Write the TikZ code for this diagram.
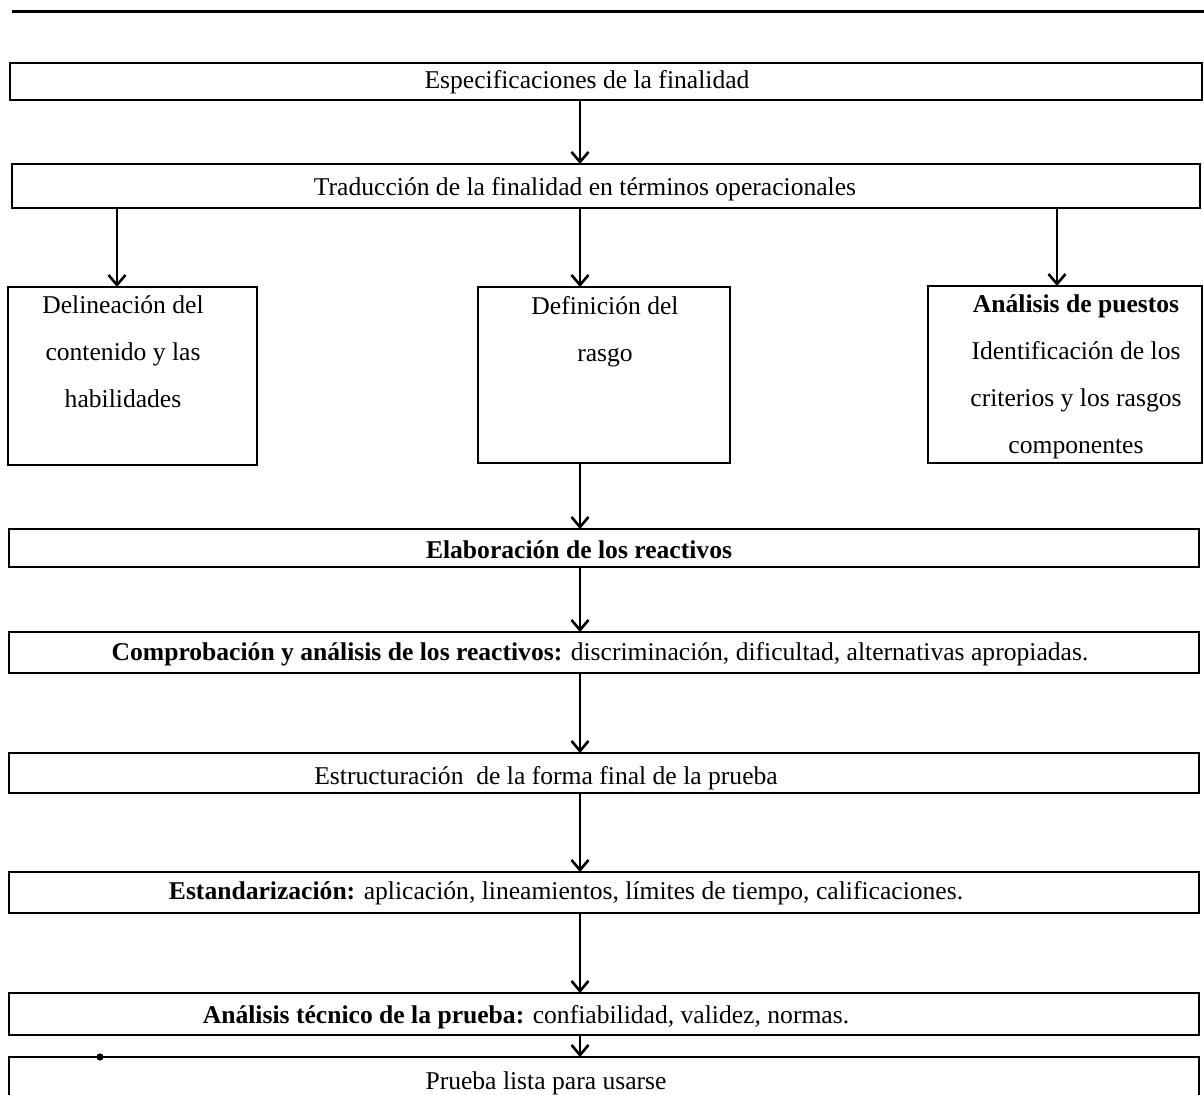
\documentclass[tikz,border=0pt]{standalone}
\usepackage{fontspec}
\setmainfont{Liberation Serif}
\usepackage{tikz}
\usetikzlibrary{arrows,arrows.meta}

\begin{document}
\begin{tikzpicture}[x=0.5pt,y=-0.5pt]
  \tikzstyle{every node}=[font=\fontsize{12.8}{23.5}\selectfont]
  \tikzstyle{wbox}=[draw,line width=1.2pt,minimum width=595pt,inner sep=0pt,outer sep=0pt]
  \tikzstyle{cbox}=[draw,line width=1.2pt,inner sep=0pt,outer sep=0pt]
  \tikzstyle{lbl}=[align=center,inner sep=0pt]
  \tikzstyle{flow}=[-{Straight Barb[length=5pt,width=8.5pt,line width=1.3pt]},line width=1.1pt]
  \clip (0,0) rectangle (1204,1095);
  \draw[line width=1.5pt] (12,12) -- (1204,12);
  % boxes
  \path (606,81.5) node[wbox,minimum width=596pt,minimum height=18.5pt] (espec) {};
\path (606,186) node[wbox,minimum width=594pt,minimum height=22pt] (trad) {};
\path (132.5,376) node[cbox,minimum width=124.5pt,minimum height=89pt] (delin) {};
\path (604,375) node[cbox,minimum width=126pt,minimum height=88pt] (defin) {};
\path (1065,374.5) node[cbox,minimum width=137pt,minimum height=88.5pt] (anal) {};
\path (604,548) node[wbox,minimum height=19pt] (elab) {};
\path (604,652.5) node[wbox,minimum height=20.5pt] (compr) {};
\path (604,773) node[wbox,minimum height=20pt] (estruc) {};
\path (604,892.5) node[wbox,minimum height=20.5pt] (estand) {};
\path (604,1014) node[wbox,minimum height=21pt] (tecn) {};
\path (604,1088.5) node[wbox,minimum height=31.5pt] (lista) {};
  % texts
  \path (587,82) node[lbl] (especT) {Especificaciones de la finalidad};
\path (585,189) node[lbl] (tradT) {Traducción de la finalidad en términos operacionales};
\path (123,352) node[lbl] (delinT) {Delineación del\\contenido y las\\habilidades};
\path (605,331.5) node[lbl] (definT) {Definición del\\rasgo};
\path (1076,376.5) node[lbl] (analT) {\textbf{Análisis de puestos}\\Identificación de los\\criterios y los rasgos\\componentes};
\path (579,550) node[lbl] (elabT) {\textbf{Elaboración de los reactivos}};
\path (600,654) node[lbl] (comprT) {\textbf{Comprobación y análisis de los reactivos:} discriminación, dificultad, alternativas apropiadas.};
\path (546,778) node[lbl] (estrucT) {Estructuración \ de la forma final de la prueba};
\path (566,893) node[lbl] (estandT) {\textbf{Estandarización:} aplicación, lineamientos, límites de tiempo, calificaciones.};
\path (526,1017) node[lbl] (tecnT) {\textbf{Análisis técnico de la prueba:} confiabilidad, validez, normas.};
\path (546,1083) node[lbl] (listaT) {Prueba lista para usarse};
  % arrow columns
  \coordinate (colL) at (117,0);
  \coordinate (colM) at (580,0);
  \coordinate (colR) at (1057,0);
  \draw[flow] (espec.south -| colM) -- (trad.north -| colM);
  \draw[flow] (trad.south -| colL) -- (delin.north -| colL);
  \draw[flow] (trad.south -| colM) -- (defin.north -| colM);
  \draw[flow] (trad.south -| colR) -- (anal.north -| colR);
  \draw[flow] (defin.south -| colM) -- (elab.north -| colM);
  \draw[flow] (elab.south -| colM) -- (compr.north -| colM);
  \draw[flow] (compr.south -| colM) -- (estruc.north -| colM);
  \draw[flow] (estruc.south -| colM) -- (estand.north -| colM);
  \draw[flow] (estand.south -| colM) -- (tecn.north -| colM);
  \draw[flow] (tecn.south -| colM) -- (lista.north -| colM);
  \fill (100,1057) circle (1.8pt);
\end{tikzpicture}
\end{document}
